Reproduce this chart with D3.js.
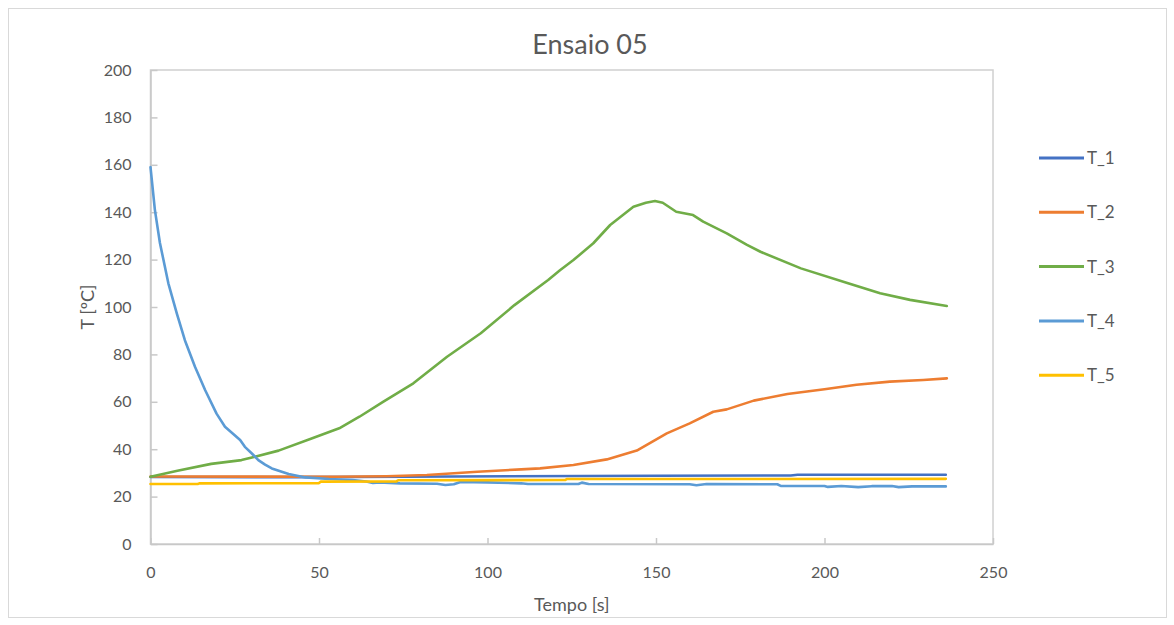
<!DOCTYPE html>
<html>
<head>
<meta charset="utf-8">
<script src="https://cdn.jsdelivr.net/npm/d3@7"></script>
<style>
  body { margin: 0; background: #fff; }
  text { font-family: Lato, "Open Sans", sans-serif; fill: #595959; }
</style>
</head>
<body>
<script>
// series as [tempo (s), T (ºC)]
var T_1 = [[0,28.3],[45,28.2],[90,28.5],[150,28.8],[190,28.9],[192,29.2],[236,29.2]];
var T_2 = [[0,28.5],[55,28.4],[70,28.6],[82,29.1],[97,30.5],[110,31.5],[115.6,31.9],[125.5,33.3],
           [135.4,35.7],[144.3,39.4],[153.2,46.7],[160,50.9],[167,55.8],[171,56.8],[179,60.5],
           [189,63.3],[200,65.3],[209.5,67.2],[219.4,68.5],[229.3,69.2],[236.3,69.9]];
var T_3 = [[0,28.4],[8,30.9],[18,33.8],[27,35.4],[31,36.8],[38,39.4],[48,44.6],[56,48.8],[62,53.7],
           [69,60],[78,67.8],[88,79],[98,88.9],[108,100.8],[118,111.4],[121.5,115.5],[125.5,119.8],
           [131.4,126.9],[136.4,134.6],[143.3,142.3],[147,144],[149.7,144.7],[152,144],[156,140.2],
           [161,138.8],[164,136],[171,131.1],[177,126.2],[181,123.3],[193,116.3],[207,110],
           [216.5,105.8],[225.4,103],[236.3,100.4]];
var T_4 = [[0,159],[1.3,141],[2.8,127],[5.3,110],[7.8,97.3],[10.2,86],[13.2,74.8],[16.2,65],[19.6,55],
           [22.1,49.5],[26.6,43.9],[28,41],[30,38.3],[32,35.4],[34,33.5],[36,31.9],[41,29.5],[46,28.1],
           [53,27.4],[60,27],[64,26.4],[66,25.8],[68,26],[74,25.6],[85,25.4],[87.5,24.9],[90,25.2],
           [92,26.2],[100,26],[110,25.6],[112,25.3],[127,25.3],[128,25.9],[130,25.3],[160,25.2],
           [162,24.8],[165,25.3],[186,25.2],[187,24.5],[200,24.5],[201,24.1],[205,24.5],[210,24],
           [214,24.4],[220,24.5],[222,24],[226,24.3],[236,24.3]];
var T_5 = [[0,25.3],[14,25.3],[14.5,25.6],[50,25.7],[50.5,26.3],[73,26.4],[73.5,26.9],[123,27],
           [123.5,27.4],[236,27.5]];

var seriesNames = ["T_1", "T_2", "T_3", "T_4", "T_5"];
var seriesData = [T_1, T_2, T_3, T_4, T_5];
var colors = ["#4472C4", "#ED7D31", "#70AD47", "#5B9BD5", "#FFC000"];
var xTicks = [0, 50, 100, 150, 200, 250];
var yTicks = [0, 20, 40, 60, 80, 100, 120, 140, 160, 180, 200];

var width = 1174, height = 625;
var plotL = 150.5, plotR = 993, plotT = 70, plotB = 544;

var svg = d3.select("body").append("svg")
    .attr("width", width)
    .attr("height", height);

// outer chart frame
svg.append("rect")
    .attr("x", 8.5).attr("y", 8.5)
    .attr("width", 1158).attr("height", 609)
    .attr("fill", "none")
    .attr("stroke", "#d9d9d9");

var x = d3.scaleLinear().domain([0, 250]).range([plotL, plotR]);
var y = d3.scaleLinear().domain([0, 200]).range([plotB, plotT]);

// plot frame
svg.append("rect")
    .attr("x", plotL).attr("y", plotT)
    .attr("width", plotR - plotL).attr("height", plotB - plotT)
    .attr("fill", "none")
    .attr("stroke", "#d0d0d0")
    .attr("stroke-width", 1.5);

// axes, ticks pointing inward
var xAxis = svg.append("g")
    .attr("transform", "translate(0," + plotB + ")")
    .call(d3.axisBottom(x).tickValues(xTicks).tickSizeInner(-6).tickSizeOuter(0).tickPadding(23));
var yAxis = svg.append("g")
    .attr("transform", "translate(" + plotL + ",0)")
    .call(d3.axisLeft(y).tickValues(yTicks).tickSizeInner(-7).tickSizeOuter(0).tickPadding(19));

[xAxis, yAxis].forEach(function(a) {
    a.select(".domain").attr("stroke", "#c8c8c8").attr("stroke-width", 1.5);
    a.selectAll(".tick line").attr("stroke", "#c8c8c8").attr("stroke-width", 1.5);
    a.selectAll(".tick text")
        .style("font-size", "16px")
        .style("fill", "#595959");
});

// lines
var line = d3.line()
    .x(function(d) { return x(d[0]); })
    .y(function(d) { return y(d[1]); });

svg.append("g")
    .selectAll("path")
    .data(seriesData)
    .enter()
    .append("path")
    .attr("d", line)
    .attr("fill", "none")
    .attr("stroke", function(d, i) { return colors[i]; })
    .attr("stroke-width", 2.6)
    .attr("stroke-linejoin", "round")
    .attr("stroke-linecap", "round");

// titles
svg.append("text")
    .attr("x", 590).attr("y", 54)
    .attr("text-anchor", "middle")
    .style("font-size", "27px")
    .text("Ensaio 05");

svg.append("text")
    .attr("x", (plotL + plotR) / 2).attr("y", 611)
    .attr("text-anchor", "middle")
    .style("font-size", "18px")
    .text("Tempo [s]");

svg.append("text")
    .attr("transform", "translate(94," + ((plotT + plotB) / 2) + ") rotate(-90)")
    .attr("text-anchor", "middle")
    .style("font-size", "18px")
    .text("T [ºC]");

// legend
var legend = svg.append("g")
    .selectAll("g")
    .data(seriesNames)
    .enter()
    .append("g")
    .attr("transform", function(d, i) { return "translate(1039," + (158 + i * 54.3) + ")"; });

legend.append("line")
    .attr("x1", 0).attr("x2", 45)
    .attr("stroke", function(d, i) { return colors[i]; })
    .attr("stroke-width", 3);

legend.append("text")
    .attr("x", 48).attr("y", 6)
    .style("font-size", "17px")
    .text(function(d) { return d; });
</script>
</body>
</html>
